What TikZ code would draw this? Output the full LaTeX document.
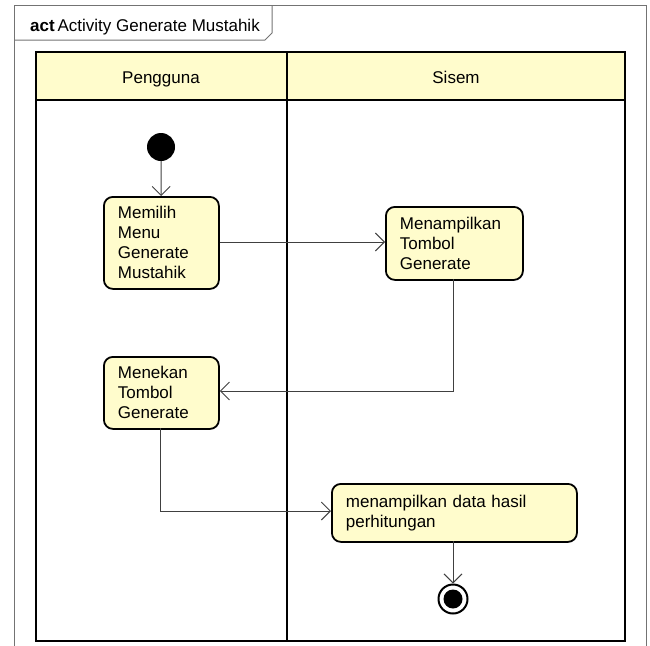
\documentclass[tikz,border=0pt]{standalone}
\usepackage{fontspec}
\setmainfont{Liberation Sans}
\usetikzlibrary{positioning,arrows.meta}

\tikzset{
  action/.style={draw, line width=1.8pt, rounded corners=9pt, fill=yellow!20,
    inner xsep=14pt, inner ysep=4pt, align=left, anchor=north west,
    font=\fontsize{17}{20}\selectfont},
  flow/.style={draw=black!75, line width=0.9pt, -{Straight Barb[length=9pt,width=18pt,line width=0.9pt]}},
  lane/.style={line width=2.4pt},
}

\begin{document}
\begin{tikzpicture}[x=1pt,y=-1pt]
\useasboundingbox (0,0) rectangle (650,645);
% frame
\draw[black!55, line width=1pt] (14,650) -- (14,5) -- (646,5) -- (646,650);
\draw[black!55, line width=1pt] (14,40) -- (265,40) -- (272,33) -- (272,5);
\node[anchor=base west, font=\fontsize{17}{20}\selectfont, inner sep=0pt](title) at (30,31){\textbf{act}\,Activity Generate Mustahik};
% swimlanes
\fill[yellow!20] (36,52) rectangle (625,100);
\draw[lane] (36,52) rectangle (625,641);
\draw[lane] (36,100) -- (625,100);
\draw[lane] (287,52) -- (287,641);
\node[anchor=base, font=\fontsize{17}{20}\selectfont](user) at (161,83){Pengguna};
\node[anchor=base, font=\fontsize{17}{20}\selectfont](sys) at (456,83){Sisem};
% nodes
\node[circle, fill=black, minimum size=28pt, inner sep=0pt](start) at (161,147){};
\node[action, text width=87pt, minimum height=92pt](memilih) at (103,196){Memilih\\Menu\\Generate\\Mustahik};
\node[action, text width=109pt, minimum height=73pt](tampil) at (385,206){Menampilkan\\Tombol\\Generate};
\node[action, text width=87pt, minimum height=72pt](tekan) at (103,356){Menekan\\Tombol\\Generate};
\node[action, text width=217pt, minimum height=58pt](hasil) at (331,483){menampilkan data hasil\\perhitungan};
\node[circle, draw, line width=2pt, fill=white, minimum size=29pt, inner sep=0pt](stop) at (453,599){};
\node[circle, fill=black, minimum size=19pt, inner sep=0pt](stopin) at (453,599){};
% flows
\draw[flow] (start) -- (memilih);
\draw[flow] (memilih.east |- 0,242) -- (tampil.west |- 0,242);
\draw[flow] (453,279) |- (tekan.east |- 0,391);
\draw[flow] (160,428) |- (hasil.west |- 0,511);
\draw[flow] (453,541) -- (stop);
\end{tikzpicture}
\end{document}
